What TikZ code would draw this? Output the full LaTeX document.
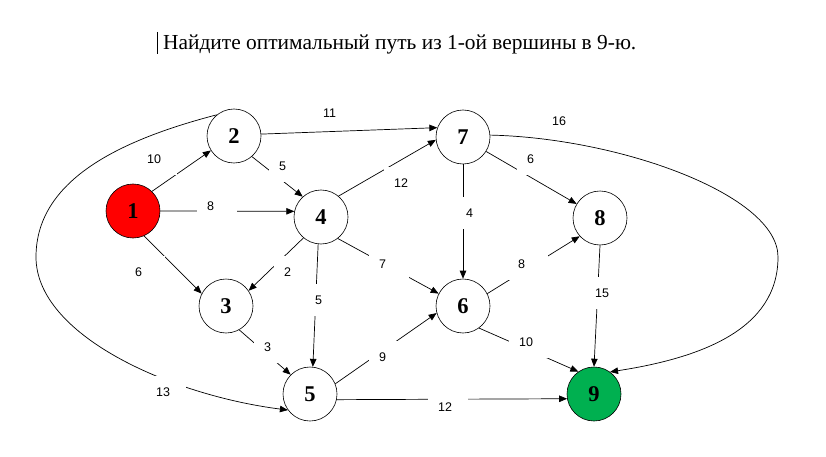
\documentclass[tikz,border=0pt]{standalone}
\usepackage{fontspec}
\setmainfont{Liberation Serif}
\newfontfamily\wtfont{Liberation Sans}
\usetikzlibrary{arrows.meta}
\definecolor{startred}{RGB}{255,0,0}
\definecolor{goalgreen}{RGB}{0,176,80}
\begin{document}
\begin{tikzpicture}[x=1pt,y=-1pt,
	vertex/.style={circle,draw,line width=0.6pt,fill=white,minimum size=54pt,inner sep=0pt,
		font=\fontsize{22.5}{22.5}\selectfont\bfseries},
	link/.style={line width=0.7pt,-{Triangle[length=8pt,width=6.5pt]}},
	weight/.style={fill=white,anchor=west,inner xsep=10pt,inner ysep=0pt,minimum height=32pt,
		text width=20pt,align=left,font=\fontsize{12.5}{13}\wtfont}]
	\useasboundingbox (0,0) rectangle (826,457);
	\node[anchor=base west,inner sep=0pt,font=\fontsize{21.4}{25}\selectfont] (task) at (163,50)
		{Найдите оптимальный путь из 1-ой вершины в 9-ю.};
	\draw[line width=0.8pt] (157.5,32) -- (157.5,54);
	\node[vertex,fill=startred]  (v1) at (133,211) {1};
	\node[vertex]                (v2) at (234,136) {2};
	\node[vertex]                (v3) at (226,306) {3};
	\node[vertex]                (v4) at (321,217) {4};
	\node[vertex]                (v5) at (310,394) {5};
	\node[vertex]                (v6) at (463,306) {6};
	\node[vertex]                (v7) at (463,137) {7};
	\node[vertex]                (v8) at (600,218) {8};
	\node[vertex,fill=goalgreen] (v9) at (594,394) {9};
	\draw[link] (v1.46)   -- (v2.212);
	\draw[link] (v1.east) -- (v4.168);
	\draw[link] (v1.-66)  -- (v3.153);
	\draw[link] (v2.-49)  -- (v4.132);
	\draw[link] (v2.4)    -- (v7.160);
	\draw[link] (v4.50)   -- (v7.186);
	\draw[link] (v4.230)  -- (v3.34);
	\draw[link] (v4.264)  -- (v5.84);
	\draw[link] (v4.-52)  -- (v6.153);
	\draw[link] (v7.south) -- (v6.north);
	\draw[link] (v7.-32)  -- (v8.149);
	\draw[link] (v3.-61)  -- (v5.135);
	\draw[link] (v5.22)   -- (v6.195);
	\draw[link] (v5.-12)  -- (v9.190);
	\draw[link] (v6.27)   -- (v8.222);
	\draw[link] (v6.-54)  -- (v9.125);
	\draw[link] (v8.south) -- (v9.north);
	\draw[link] (v7.4) .. controls (620,138) and (778,195) .. (778,257)
		.. controls (778,330) and (700,358) .. (v9.54);
	\draw[link] (v2.129) .. controls (120,140) and (36,180) .. (36,257)
		.. controls (36,335) and (170,395) .. (v5.216);
	\node[weight] (w12) at (137,159) {10};
	\node[weight] (w14) at (197,206) {8};
	\node[weight] (w13) at (125,272) {6};
	\node[weight] (w24) at (269,166) {5};
	\node[weight] (w27) at (313,113) {11};
	\node[weight] (w47) at (384,183) {12};
	\node[weight] (w43) at (274,272) {2};
	\node[weight] (w45) at (305,300) {5};
	\node[weight] (w46) at (369,264) {7};
	\node[weight] (w76) at (456,213) {4};
	\node[weight] (w78) at (517,159) {6};
	\node[weight] (w79) at (542,121) {16};
	\node[weight] (w35) at (254,347) {3};
	\node[weight] (w56) at (369,357) {9};
	\node[weight] (w59) at (428,407) {12};
	\node[weight] (w25) at (146,392) {13};
	\node[weight] (w68) at (508,264) {8};
	\node[weight] (w69) at (509,342) {10};
	\node[weight] (w89) at (585,293) {15};
\end{tikzpicture}
\end{document}
